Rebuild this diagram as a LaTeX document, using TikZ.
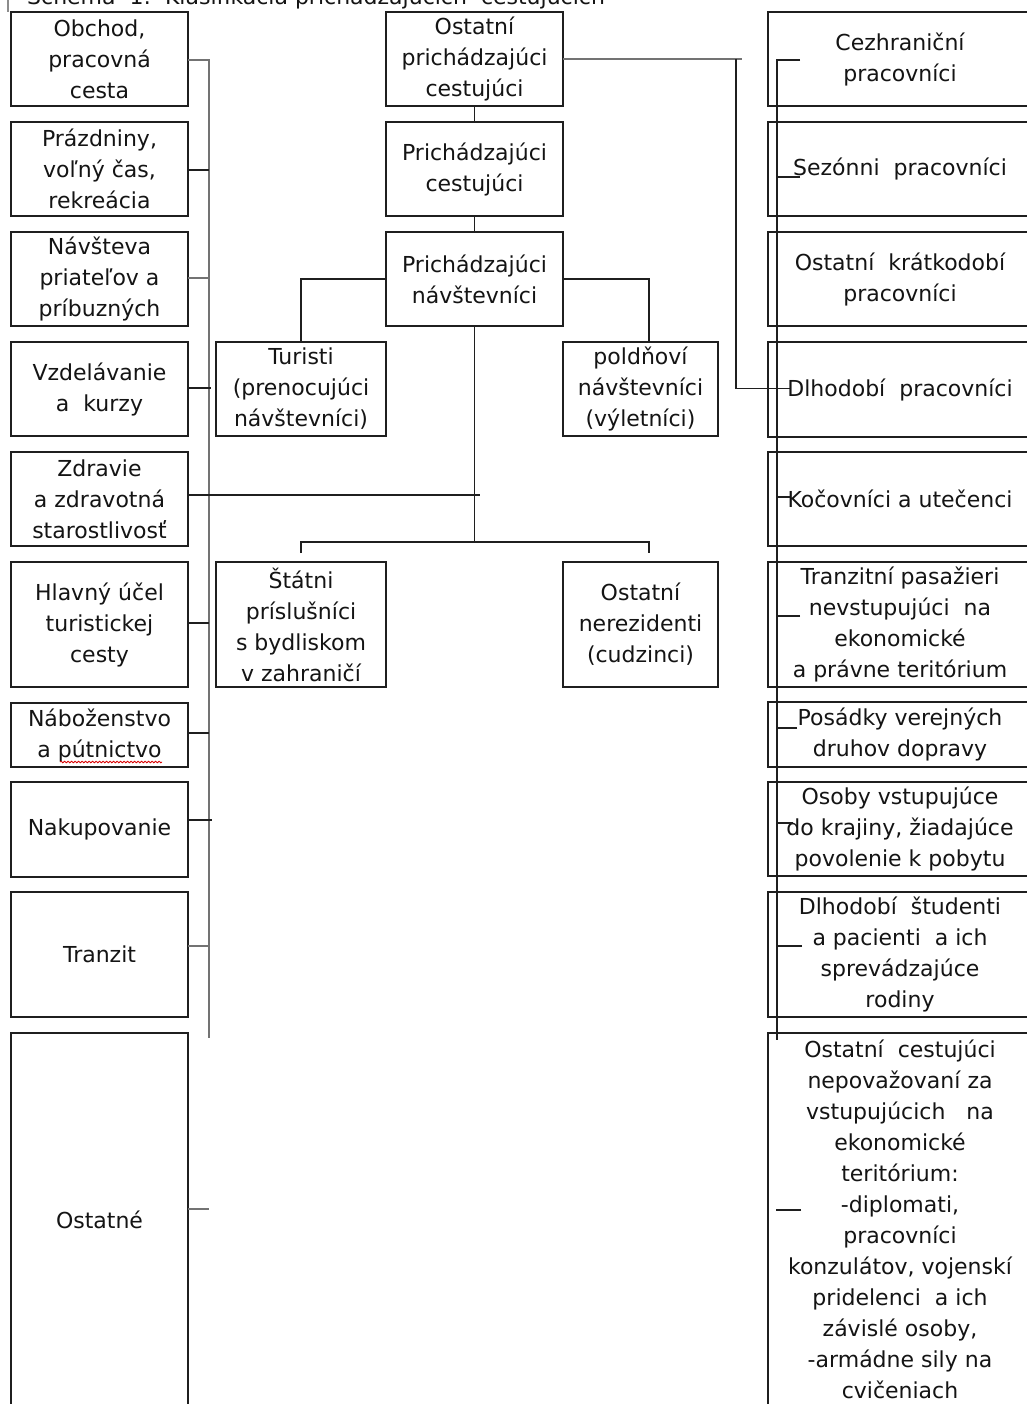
\documentclass[tikz,border=0pt]{standalone}
\usepackage{fontspec}
\setmainfont{DejaVu Sans}
\usetikzlibrary{calc,decorations.pathmorphing}
\begin{document}
\begin{tikzpicture}[x=1pt,y=-1pt,
  box/.style={draw=black!88, line width=1.8pt, inner sep=0pt, outer sep=0pt, align=center,
    font=\fontsize{22}{31}\selectfont, text=black!92},
  lbox/.style={box, minimum width=177pt},
  cbox/.style={box, minimum width=177pt},
  rbox/.style={box, minimum width=264pt},
  conn/.style={draw=black!88, line width=1.8pt},
  gconn/.style={draw=black!55, line width=2.2pt}]
\useasboundingbox (0,0) rectangle (1026,1404);
\fill[white] (0,0) rectangle (1026,1404);

% title (cut at top)
\node[anchor=base west, inner sep=0pt, font=\fontsize{22}{31}\selectfont, text=black!92] (title) at (27,5)
  {Schéma\ \ 1:\ \ Klasifikácia prichádzajúcich\ \ cestujúcich};
\draw[black!45, line width=1.2pt] (8,0) -- (8,12);

% left column
\node[lbox, minimum height=94pt] (L1) at (99.5,59) {Obchod,\\pracovná\\cesta};
\node[lbox, minimum height=94pt] (L2) at (99.5,169) {Prázdniny,\\voľný čas,\\rekreácia};
\node[lbox, minimum height=94pt] (L3) at (99.5,279) {Návšteva\\priateľov a\\príbuzných};
\node[lbox, minimum height=94pt] (L4) at (99.5,389) {Vzdelávanie\\a\ \ kurzy};
\node[lbox, minimum height=94pt] (L5) at (99.5,499) {Zdravie\\a zdravotná\\starostlivosť};
\node[lbox, minimum height=125pt] (L6) at (99.5,624.5) {Hlavný účel\\turistickej\\cesty};
\node[lbox, minimum height=64pt] (L7) at (99.5,735) {Náboženstvo\\a pútnictvo};
\node[lbox, minimum height=95pt] (L8) at (99.5,829.5) {Nakupovanie};
\node[lbox, minimum height=125pt] (L9) at (99.5,954.5) {Tranzit};
\node[lbox, minimum height=373pt] (L10) at (99.5,1219.5) {Ostatné};
\draw[red!85!black, line width=0.8pt, decorate, decoration={snake, amplitude=0.8pt, segment length=3.5pt}] (60,762) -- (162,762);

% centre column
\node[cbox, minimum height=94pt] (A) at (474.5,59) {Ostatní\\prichádzajúci\\cestujúci};
\node[cbox, minimum height=94pt] (B) at (474.5,169) {Prichádzajúci\\cestujúci};
\node[cbox, minimum height=94pt] (C) at (474.5,279) {Prichádzajúci\\návštevníci};
\node[box, minimum width=170pt, minimum height=94pt] (T) at (301,389) {Turisti\\(prenocujúci\\návštevníci)};
\node[box, minimum width=155pt, minimum height=94pt] (P) at (640.5,389) {poldňoví\\návštevníci\\(výletníci)};
\node[box, minimum width=170pt, minimum height=125pt] (S) at (301,624.5) {Štátni\\príslušníci\\s bydliskom\\v zahraničí};
\node[box, minimum width=155pt, minimum height=125pt] (N) at (640.5,624.5) {Ostatní\\nerezidenti\\(cudzinci)};

% right column
\node[rbox, minimum height=94pt] (R1) at (900,59) {Cezhraniční\\pracovníci};
\node[rbox, minimum height=94pt] (R2) at (900,169) {Sezónni\ \ pracovníci};
\node[rbox, minimum height=94pt] (R3) at (900,279) {Ostatní\ \ krátkodobí\\pracovníci};
\node[rbox, minimum height=95pt] (R4) at (900,389.5) {Dlhodobí\ \ pracovníci};
\node[rbox, minimum height=94pt] (R5) at (900,499) {Kočovníci a utečenci};
\node[rbox, minimum height=125pt] (R6) at (900,624.5) {Tranzitní pasažieri\\nevstupujúci\ \ na\\ekonomické\\a právne teritórium};
\node[rbox, minimum height=65pt] (R7) at (900,734.5) {Posádky verejných\\druhov dopravy};
\node[rbox, minimum height=94pt] (R8) at (900,829) {Osoby vstupujúce\\do krajiny, žiadajúce\\povolenie k pobytu};
\node[rbox, minimum height=125pt] (R9) at (900,954.5) {Dlhodobí\ \ študenti\\a pacienti\ \ a ich\\sprevádzajúce\\rodiny};
\node[rbox, minimum height=373pt] (R10) at (900,1219.5) {Ostatní\ \ cestujúci\\nepovažovaní za\\vstupujúcich\ \ \ na\\ekonomické\\teritórium:\\-diplomati,\\pracovníci\\konzulátov, vojenskí\\pridelenci\ \ a ich\\závislé osoby,\\-armádne sily na\\cvičeniach};

% left bus
\coordinate (lb) at (209,1038);
\draw[gconn] ([yshift=-1pt]L1.east) -| (lb);
\draw[conn] ([yshift=-1pt]L2.east) -- ++(21,0);
\draw[gconn] ([yshift=1pt]L3.east) -- ++(21,0);
\draw[conn] ([yshift=1pt]L4.east) -- ++(23,0);
\draw[conn] ([yshift=4pt]L5.east) -- ++(292,0);
\draw[conn] ([yshift=1.5pt]L6.east) -- ++(21,0);
\draw[conn] ([yshift=2pt]L7.east) -- ++(21,0);
\draw[conn] ([yshift=9.5pt]L8.east) -- ++(24,0);
\draw[gconn] ([yshift=8.5pt]L9.east) -- ++(21,0);
\draw[gconn] ([yshift=10.5pt]L10.east) -- ++(21,0);

% centre connectors
\coordinate (cj) at (474.5,542);
\draw[conn] (A.south) -- (B.north);
\draw[conn] (B.south) -- (C.north);
\draw[conn] (C.south) -- (cj);
\draw[conn] ([yshift=9pt]S.north) |- (cj) -| ([xshift=8.5pt,yshift=9pt]N.north);
\draw[conn] (C.west) -| (T.north);
\draw[conn] (C.east) -| ([xshift=8.5pt]P.north);

% from A to right side
\draw[gconn] (A.east) -- ++(179,0);
\draw[conn] ([xshift=173pt]A.east) |- ([xshift=22pt,yshift=1pt]R4.west);

% right bus
\coordinate (rb) at (777,1040);
\draw[conn] ([xshift=32pt,yshift=-1pt]R1.west) -| (rb);
\draw[conn] ([xshift=32pt,yshift=-8pt]R2.west) -- ++(-23,0);
\draw[conn] ([xshift=22pt,yshift=2pt]R5.west) -- ++(-13,0);
\draw[conn] ([xshift=32pt,yshift=8.5pt]R6.west) -- ++(-23,0);
\draw[conn] ([xshift=29pt,yshift=6.5pt]R7.west) -- ++(-20,0);
\draw[conn] ([xshift=25pt,yshift=6pt]R8.west) -- ++(-16,0);
\draw[conn] ([xshift=34pt,yshift=8.5pt]R9.west) -- ++(-25,0);
\draw[conn] ([xshift=33pt,yshift=9.5pt]R10.west) -- ++(-25,0);
\end{tikzpicture}
\end{document}
